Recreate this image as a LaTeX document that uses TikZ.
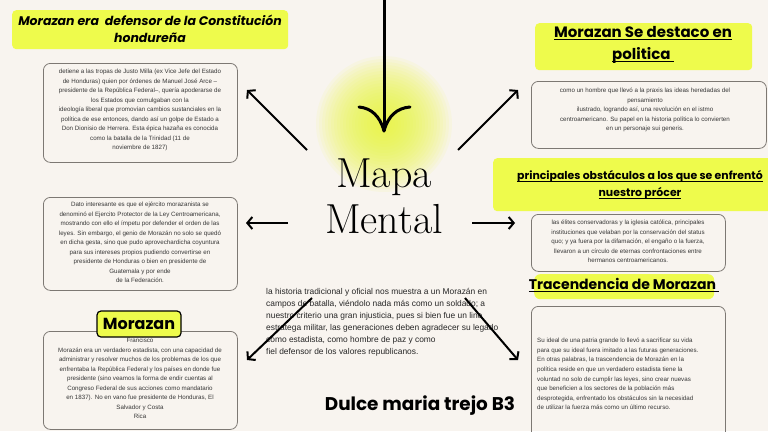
\documentclass[tikz,border=0pt]{standalone}
\usepackage{fontspec}
\newfontfamily\bodyf{Liberation Sans}
\newfontfamily\headf{Poppins}
\usetikzlibrary{arrows.meta}
\definecolor{bg}{RGB}{248,244,239}
\definecolor{hl}{RGB}{238,251,76}
\definecolor{glowc}{RGB}{234,248,50}
\definecolor{boxline}{RGB}{125,120,115}
\definecolor{txt}{RGB}{55,55,55}
\newcommand\myul[1]{\setbox0\hbox{#1}\rlap{\rule[-2.6pt]{\wd0}{1.3pt}}\box0}
\tikzset{
  infobox/.style={draw=boxline, line width=0.8pt, rounded corners=7pt},
  hlbox/.style={fill=hl, rounded corners=4pt},
  bodytext/.style={inner sep=0pt, text=txt, font=\bodyf\fontsize{6.2}{9.5}\selectfont},
  arr/.style={line width=2pt, -{Straight Barb[length=5pt,width=12pt]}},
}
\begin{document}
\begin{tikzpicture}[x=1pt,y=-1pt]
\fill[bg] (0,0) rectangle (768,431);
\useasboundingbox (0,0) rectangle (768,431);
\clip (0,0) rectangle (768,431);
% glow
\coordinate (glow) at (384,124);
\foreach \r in {68,65,...,5} \fill[glowc, fill opacity=0.07] (glow) circle (\r);
% left column
\node[hlbox, minimum width=276pt, minimum height=39pt, anchor=north west, inner sep=0pt] (h1) at (12,10) {};
\node[align=center, inner sep=0pt, font=\headf\bfseries\itshape\fontsize{12.5}{17}\selectfont] (h1t) at (150,29) {Morazan era\ \ defensor de la Constitución\\hondureña};
\node[infobox, minimum width=194pt, minimum height=99pt, anchor=north west] (b1) at (43,63) {};
\node[bodytext, align=center, anchor=north] (b1t) at (140,69) {detiene a las tropas de Justo Milla (ex Vice Jefe del Estado\\de Honduras) quien por órdenes de Manuel José Arce –\\presidente de la República Federal–, quería apoderarse de\\los Estados que comulgaban con la\\ideología liberal que promovían cambios sustanciales en la\\política de ese entonces, dando así un golpe de Estado a\\Don Dionisio de Herrera. Esta épica hazaña es conocida\\como la batalla de la Trinidad (11 de\\noviembre de 1827)};
\node[infobox, minimum width=194pt, minimum height=93pt, anchor=north west] (b2) at (43,197) {};
\node[bodytext, align=center, anchor=north] (b2t) at (140,202) {Dato interesante es que el ejército morazanista se\\denominó el Ejercito Protector de la Ley Centroamericana,\\mostrando con ello el ímpetu por defender el orden de las\\leyes. Sin embargo, el genio de Morazán no solo se quedó\\en dicha gesta, sino que pudo aprovechardicha coyuntura\\para sus intereses propios pudiendo convertirse en\\presidente de Honduras o bien en presidente de\\Guatemala y por ende\\de la Federación.};
\node[infobox, minimum width=194pt, minimum height=98pt, anchor=north west] (b3) at (43,331) {};
\node[bodytext, align=center, anchor=north] (b3t) at (140,338) {Francisco\\Morazán era un verdadero estadista, con una capacidad de\\administrar y resolver muchos de los problemas de los que\\enfrentaba la República Federal y los países en donde fue\\presidente (sino veamos la forma de endir cuentas al\\Congreso Federal de sus acciones como mandatario\\en 1837). No en vano fue presidente de Honduras, El\\Salvador y Costa\\Rica};
\node[fill=hl, draw=black, line width=1.2pt, rounded corners=4pt, minimum width=84pt, minimum height=26pt, inner sep=0pt, font=\headf\bfseries\fontsize{16}{16}\selectfont] (lab) at (139,324) {Morazan};
% center
\coordinate (top) at (384,-2);
\coordinate (tip) at (384,131);
\coordinate (armL) at (359,107);
\coordinate (armR) at (410,107);
\draw[line width=3pt] (top) -- (tip);
\draw[line width=3pt, line cap=round] (armL) .. controls (371,108) and (380,116) .. (tip);
\draw[line width=3pt, line cap=round] (armR) .. controls (397,108) and (388,116) .. (tip);
\node[anchor=base, inner sep=0pt, font=\fontsize{42}{42}\selectfont] (mapa) at (384,187) {Mapa};
\node[anchor=base, inner sep=0pt, font=\fontsize{42}{42}\selectfont] (mental) at (384,233) {Mental};
\node[anchor=north west, inner sep=0pt, align=left, text=black!85, font=\bodyf\fontsize{8.4}{12}\selectfont] (ct) at (266,288) {la historia tradicional y oficial nos muestra a un Morazán en\\campos de batalla, viéndolo nada más como un soldado; a\\nuestro criterio una gran injusticia, pues si bien fue un lino\\estratega militar, las generaciones deben agradecer su legado\\como estadista, como hombre de paz y como\\fiel defensor de los valores republicanos.};
\node[anchor=base, inner sep=0pt, font=\headf\bfseries\fontsize{18.4}{18.4}\selectfont] (name) at (420,410) {Dulce maria trejo B3};
% arrows
\coordinate (ulT) at (307,150); \coordinate (ulH) at (247,90);
\coordinate (urT) at (458,150); \coordinate (urH) at (518,90);
\coordinate (lT) at (288,223); \coordinate (lH) at (246,223);
\coordinate (rT) at (472,223); \coordinate (rH) at (515,223);
\coordinate (llT) at (312,298); \coordinate (llH) at (247,360);
\coordinate (lrT) at (465,298); \coordinate (lrH) at (518,360);
\draw[arr] (ulT) -- (ulH);
\draw[arr] (urT) -- (urH);
\draw[arr] (lT) -- (lH);
\draw[arr] (rT) -- (rH);
\draw[arr] (llT) -- (llH);
\draw[arr] (lrT) -- (lrH);
% right column
\node[hlbox, minimum width=217pt, minimum height=47pt, anchor=north west, inner sep=0pt] (h2) at (535,23) {};
\node[align=center, inner sep=0pt, font=\headf\bfseries\fontsize{15}{22}\selectfont] (h2t) at (643,45) {\myul{Morazan Se destaco en}\\\myul{politica\ }};
\node[infobox, minimum width=235pt, minimum height=67pt, anchor=north west] (r1) at (531,81) {};
\node[bodytext, align=center, anchor=north] (r1t) at (645,88) {como un hombre que llevó a la praxis las ideas heredadas del\\pensamiento\\ilustrado, logrando así, una revolución en el istmo\\centroamericano. Su papel en la historia política lo convierten\\en un personaje sui generis.};
\node[hlbox, minimum width=280pt, minimum height=53pt, anchor=north west, inner sep=0pt] (h3) at (493,158) {};
\node[align=center, inner sep=0pt, font=\headf\bfseries\fontsize{10.9}{17}\selectfont] (h3t) at (640,185) {\myul{principales obstáculos a los que se enfrentó}\\\myul{nuestro prócer}};
\node[infobox, minimum width=194pt, minimum height=57pt, anchor=north west] (r2) at (531,214) {};
\node[bodytext, align=center, anchor=north] (r2t) at (628,220) {las élites conservadoras y la iglesia católica, principales\\instituciones que velaban por la conservación del status\\quo; y ya fuera por la difamación, el engaño o la fuerza,\\llevaron a un círculo de eternas confrontaciones entre\\hermanos centroamericanos.};
\node[hlbox, rounded corners=6pt, minimum width=180pt, minimum height=25pt, anchor=north west, inner sep=0pt] (h4) at (534,274) {};
\node[inner sep=0pt, font=\headf\bfseries\fontsize{14}{14}\selectfont] (h4t) at (624,285) {\myul{Tracendencia de Morazan\ }};
\node[infobox, minimum width=194pt, minimum height=140pt, anchor=north west] (r3) at (531,306) {};
\node[bodytext, align=left, anchor=north west, font=\bodyf\fontsize{6.2}{9.6}\selectfont] (r3t) at (537,338) {Su ideal de una patria grande lo llevó a sacrificar su vida\\para que su ideal fuera imitado a las futuras generaciones.\\En otras palabras, la trascendencia de Morazán en la\\política reside en que un verdadero estadista tiene la\\voluntad no solo de cumplir las leyes, sino crear nuevas\\que beneficien a los sectores de la población más\\desprotegida, enfrentado los obstáculos sin la necesidad\\de utilizar la fuerza más como un último recurso.};
\end{tikzpicture}
\end{document}
